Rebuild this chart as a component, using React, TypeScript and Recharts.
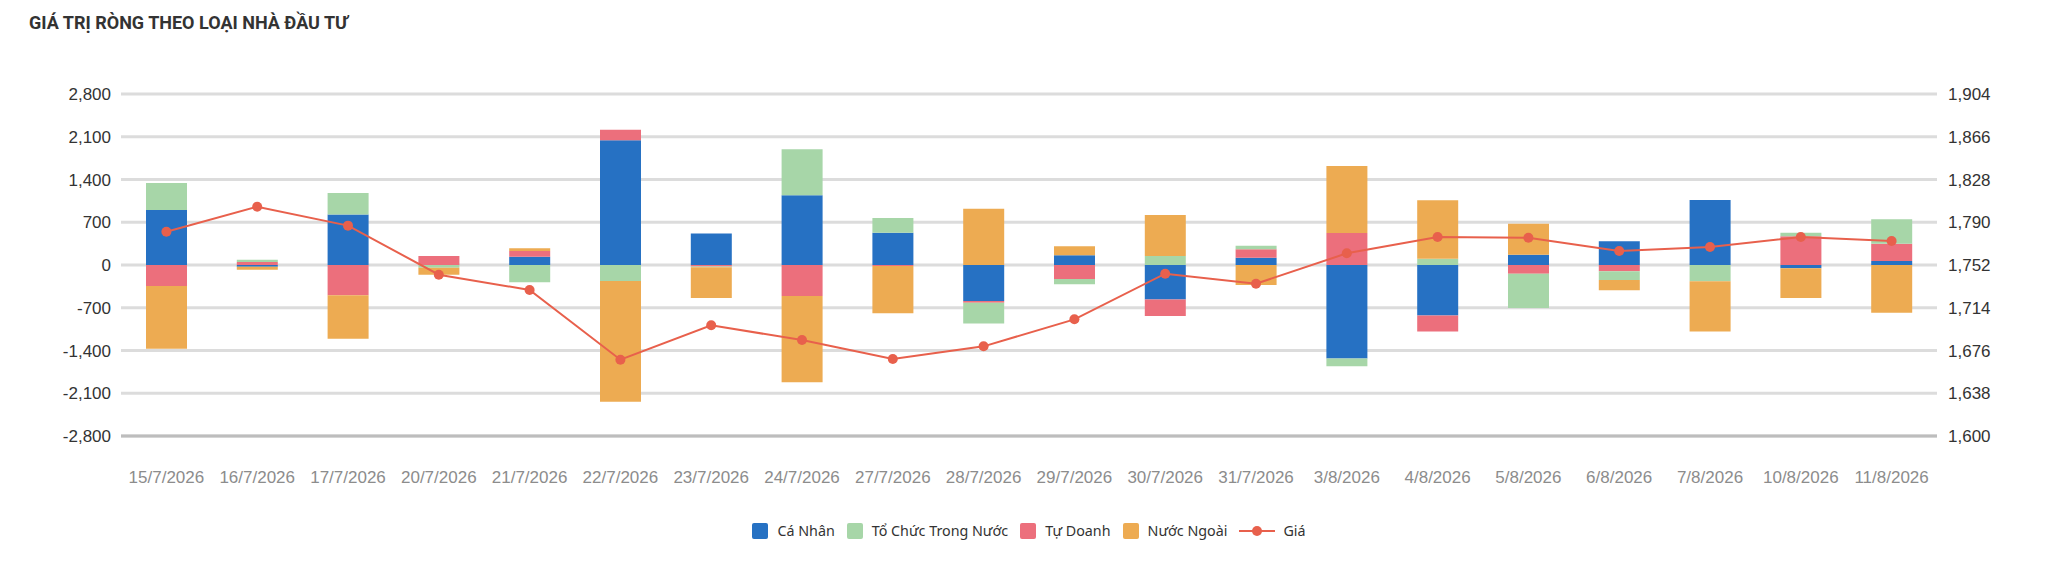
import { ComposedChart, Bar, Line, XAxis, YAxis, CartesianGrid } from 'recharts'

const dates = [
  '15/7/2026', '16/7/2026', '17/7/2026', '20/7/2026', '21/7/2026',
  '22/7/2026', '23/7/2026', '24/7/2026', '27/7/2026', '28/7/2026',
  '29/7/2026', '30/7/2026', '31/7/2026', '3/8/2026', '4/8/2026',
  '5/8/2026', '6/8/2026', '7/8/2026', '10/8/2026', '11/8/2026',
]

const caNhan = [900, -28, 825, 0, 137, 2043, 514, 1142, 530, -590, 158, -563, 120, -1530, -825, 169, 388, 1065, -55, 66]
const toChucTrongNuoc = [444, 38, 355, -44, -284, -262, -10, 754, 240, -339, -87, 148, 60, -126, 104, -563, -142, -268, 60, 399]
const tuDoanh = [-344, 50, -497, 148, 93, 170, -25, -508, -16, -27, -229, -273, 137, 525, -262, -142, -104, 0, 470, 284]
const nuocNgoai = [-1027, -50, -710, -114, 44, -1978, -506, -1410, -776, 923, 148, 672, -328, 1098, 956, 508, -169, -820, -486, -781]
const gia = [1781.6, 1803.8, 1787, 1743.4, 1729.8, 1667.8, 1698.4, 1685.3, 1668.4, 1679.7, 1703.7, 1744.3, 1735.4, 1762.4, 1776.9, 1776.3, 1764.4, 1768, 1776.9, 1773.3]

const leftTicks = [-2800, -2100, -1400, -700, 0, 700, 1400, 2100, 2800]
const rightTicks = [1600, 1638, 1676, 1714, 1752, 1790, 1828, 1866, 1904]

const series = [
  { key: 'caNhan', name: 'Cá Nhân', color: '#2671c3' },
  { key: 'toChuc', name: 'Tổ Chức Trong Nước', color: '#a7d6a8' },
  { key: 'tuDoanh', name: 'Tự Doanh', color: '#ec6f7c' },
  { key: 'nuocNgoai', name: 'Nước Ngoài', color: '#edab52' },
]
const lineColor = '#e8604c'

const data = dates.map((date, i) => ({
  date,
  caNhan: caNhan[i],
  toChuc: toChucTrongNuoc[i],
  tuDoanh: tuDoanh[i],
  nuocNgoai: nuocNgoai[i],
  gia: gia[i],
}))

// stacking order in the original differs from the legend order
const stackOrder = ['caNhan', 'tuDoanh', 'toChuc', 'nuocNgoai']

const fmt = (v: number) => v.toLocaleString('en-US')
const tickFont = { fontFamily: '"Liberation Sans", Arial, sans-serif', fontSize: 17 }

function ChartLegend() {
  return (
    <div
      style={{
        position: 'absolute', left: 113, top: 513, width: 1816,
        display: 'flex', justifyContent: 'center', alignItems: 'center',
        fontFamily: '"Noto Sans", sans-serif', fontSize: 14.3, color: '#333',
      }}
    >
      {series.map((s) => (
        <div key={s.key} style={{ display: 'flex', alignItems: 'center', marginRight: 12 }}>
          <span style={{ width: 16, height: 16, borderRadius: 2, background: s.color, marginRight: 9, display: 'inline-block' }} />
          <span>{s.name}</span>
        </div>
      ))}
      <div style={{ display: 'flex', alignItems: 'center' }}>
        <svg width={36} height={16} style={{ marginRight: 8 }}>
          <line x1={0} y1={8} x2={36} y2={8} stroke={lineColor} strokeWidth={2} />
          <circle cx={18} cy={8} r={5} fill={lineColor} />
        </svg>
        <span>Giá</span>
      </div>
    </div>
  )
}

export default function App() {
  return (
    <div style={{ position: 'relative', width: 2032, height: 556, background: '#fff' }}>
      <div
        style={{
          position: 'absolute', left: 21, top: 5, lineHeight: '20px',
          fontFamily: 'Roboto, sans-serif', fontWeight: 700, fontSize: 18, color: '#333',
        }}
      >
        GIÁ TRỊ RÒNG THEO LOẠI NHÀ ĐẦU TƯ
      </div>
      <ComposedChart
        width={2032}
        height={500}
        data={data}
        stackOffset="sign"
        barSize={41}
        margin={{ top: 86, right: 0, left: 0, bottom: 12 }}
      >
        <CartesianGrid vertical={false} stroke="#dcdcdc" strokeWidth={3} yAxisId="left" />
        <XAxis
          dataKey="date"
          height={60}
          tickLine={false}
          tickMargin={29}
          axisLine={{ stroke: '#bdbdbd', strokeWidth: 3 }}
          tick={{ ...tickFont, fill: '#8c8c8c' }}
          interval={0}
        />
        <YAxis
          yAxisId="left"
          width={113}
          domain={[-2800, 2800]}
          ticks={leftTicks}
          tickFormatter={fmt}
          axisLine={false}
          tickLine={false}
          tickMargin={4}
          tick={{ ...tickFont, fill: '#333' }}
        />
        <YAxis
          yAxisId="right"
          orientation="right"
          width={103}
          domain={[1600, 1904]}
          ticks={rightTicks}
          tickFormatter={fmt}
          axisLine={false}
          tickLine={false}
          tickMargin={5}
          tick={{ ...tickFont, fill: '#333' }}
        />
        {stackOrder.map((k) => {
          const s = series.find((x) => x.key === k)!
          return (
            <Bar
              key={k}
              yAxisId="left"
              dataKey={k}
              name={s.name}
              stackId="a"
              fill={s.color}
              isAnimationActive={false}
            />
          )
        })}
        <Line
          yAxisId="right"
          dataKey="gia"
          name="Giá"
          type="linear"
          stroke={lineColor}
          strokeWidth={2}
          dot={{ r: 5, fill: lineColor, stroke: lineColor, strokeWidth: 0 }}
          activeDot={false}
          isAnimationActive={false}
        />
      </ComposedChart>
      <ChartLegend />
    </div>
  )
}
